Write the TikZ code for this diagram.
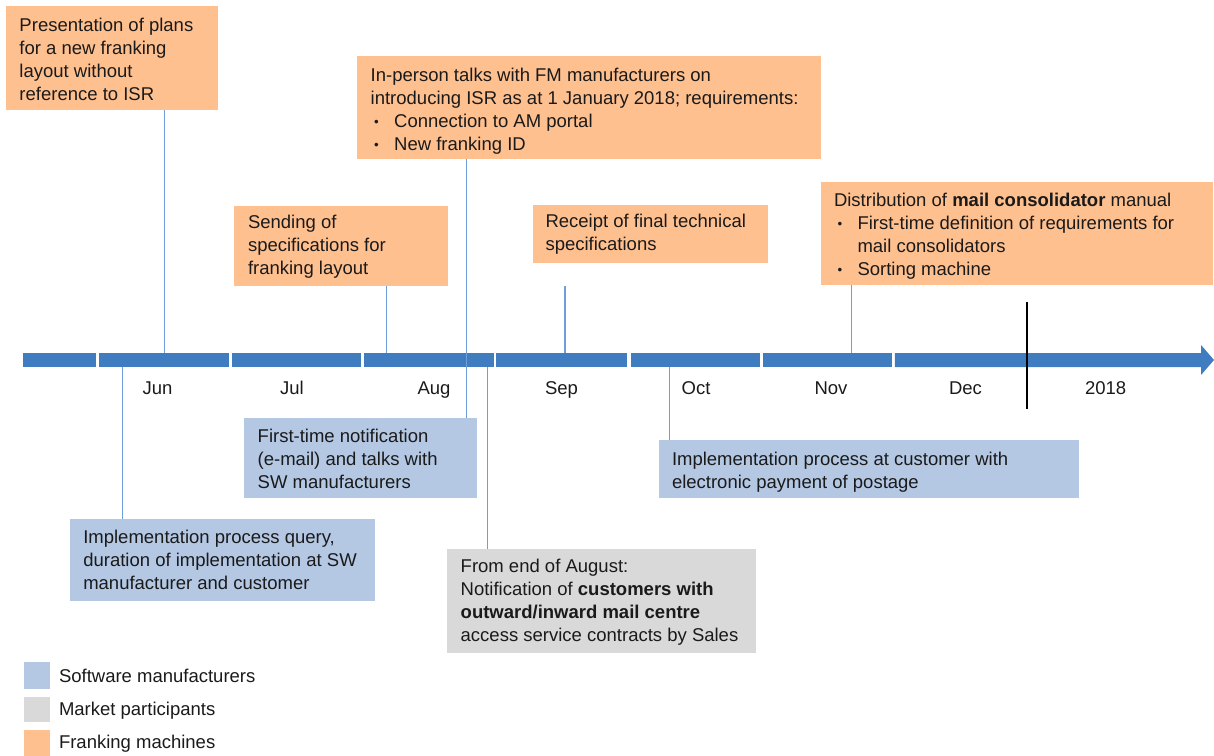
\documentclass[tikz,border=0pt]{standalone}
\usepackage{graphicx}
\usepackage{fontspec}
\setmainfont{Liberation Sans}
\definecolor{fmorange}{HTML}{FFC08F}
\definecolor{swblue}{HTML}{B4C8E4}
\definecolor{mpgray}{HTML}{D9D9D9}
\definecolor{barblue}{HTML}{3F7DC0}
\definecolor{connblue}{HTML}{6F9FD8}
\definecolor{ink}{HTML}{1A1A1A}
\newcommand{\boxfont}{\fontsize{18.5}{23.1}\selectfont}
\newcommand{\bul}{\makebox[23.5pt][l]{\hspace{3.5pt}\raisebox{1pt}{\scalebox{0.72}{•}}}}
\newcommand{\ind}{\hspace{23.5pt}}
\begin{document}
\begin{tikzpicture}[x=1pt,y=-1pt,
  boxbase/.style={rectangle,inner sep=0pt,outer sep=0pt,anchor=north west},
  fmbox/.style={boxbase,fill=fmorange},
  swbox/.style={boxbase,fill=swblue},
  mpbox/.style={boxbase,fill=mpgray},
  txt/.style={anchor=base west,inner sep=0pt,outer sep=0pt,font=\boxfont,text=ink},
  month/.style={anchor=base,inner sep=0pt,font=\boxfont,text=ink},
  conn/.style={draw=connblue,line width=1.3pt},
  legsq/.style={rectangle,inner sep=0pt,outer sep=0pt,anchor=north west,minimum width=26pt}]
\useasboundingbox (0,0) rectangle (1214,755);

% ---- timeline bar -------------------------------------------------------
\foreach \a/\b in {23/95.7, 98.7/228.5, 231.5/360.9, 364/493.7,
                   496.4/627.4, 630.5/759.7, 762.9/891.7}
  \fill[barblue] (\a,353) rectangle (\b,367);
\fill[barblue] (894.8,353) -- (1201,353) -- (1201,345) -- (1214,360)
  -- (1201,375) -- (1201,367) -- (894.8,367) -- cycle;
\draw[black,line width=2.2pt] (1026.8,302) -- (1026.8,409);

% month labels
\foreach \x/\m in {157.5/Jun, 292/Jul, 434/Aug, 561.5/Sep, 696/Oct,
                   831/Nov, 965.5/Dec, 1105.6/2018}
  \node[month] at (\x,394) {\m};

% anchor points of the connectors on the bar
\coordinate (t1) at (164.6,353);
\coordinate (t3) at (386.6,353);
\coordinate (t4) at (564.9,353);
\coordinate (t4s) at (564.9,286);
\coordinate (t5) at (851.8,353);
\coordinate (u7) at (122.8,367);
\coordinate (u8) at (487.2,367);
\coordinate (u9) at (669.7,367);

% ---- franking machine boxes ---------------------------------------------
\node[fmbox,minimum width=212pt,minimum height=104pt] (p1) at (6,6) {};
\node[txt] (p1t) at (19.5,31) {\begin{tabular}[t]{@{}l@{}}
Presentation of plans\\ for a new franking\\ layout without\\ reference to ISR
\end{tabular}};

\node[fmbox,minimum width=464pt,minimum height=103pt] (p2) at (357,56) {};
\node[txt] (p2t) at (370.7,81) {\begin{tabular}[t]{@{}l@{}}
In-person talks with FM manufacturers on\\
introducing ISR as at 1 January 2018; requirements:\\
\bul Connection to AM portal\\
\bul New franking ID
\end{tabular}};

\node[fmbox,minimum width=214pt,minimum height=80pt] (p3) at (234,205.5) {};
\node[txt] (p3t) at (248,228) {\begin{tabular}[t]{@{}l@{}}
Sending of\\ specifications for\\ franking layout
\end{tabular}};

\node[fmbox,minimum width=235.5pt,minimum height=58pt] (p4) at (532.5,205) {};
\node[txt] (p4t) at (545.5,227.5) {\begin{tabular}[t]{@{}l@{}}
Receipt of final technical\\ specifications
\end{tabular}};

\node[fmbox,minimum width=392pt,minimum height=103pt] (p5) at (821,182) {};
\node[txt] (p5t) at (834,206) {\begin{tabular}[t]{@{}l@{}}
Distribution of \textbf{mail consolidator} manual\\
\bul First-time definition of requirements for\\
\ind mail consolidators\\
\bul Sorting machine
\end{tabular}};

% ---- software manufacturer boxes ----------------------------------------
\node[swbox,minimum width=233pt,minimum height=80pt] (b6) at (244,418) {};
\node[txt] (b6t) at (257.7,442) {\begin{tabular}[t]{@{}l@{}}
First-time notification\\ (e-mail) and talks with\\ SW manufacturers
\end{tabular}};

\node[swbox,minimum width=305pt,minimum height=82pt] (b7) at (70,519) {};
\node[txt] (b7t) at (83.3,543) {\begin{tabular}[t]{@{}l@{}}
Implementation process query,\\ duration of implementation at SW\\ manufacturer and customer
\end{tabular}};

\node[swbox,minimum width=420pt,minimum height=58pt] (b9) at (659,440) {};
\node[txt] (b9t) at (672,465) {\begin{tabular}[t]{@{}l@{}}
Implementation process at customer with\\ electronic payment of postage
\end{tabular}};

% ---- market participant box ---------------------------------------------
\node[mpbox,minimum width=309pt,minimum height=104pt] (g8) at (447,549) {};
\node[txt] (g8t) at (460.7,572) {\begin{tabular}[t]{@{}l@{}}
From end of August:\\
Notification of \textbf{customers with}\\
\textbf{outward/inward mail centre}\\
access service contracts by Sales
\end{tabular}};

% ---- connectors ---------------------------------------------------------
\draw[conn] (p1.south -| t1) -- (t1);
\draw[conn] (p3.south -| t3) -- (t3);
\draw[conn] (t4s) -- (t4);
\draw[conn] (p5.south -| t5) -- (t5);
\draw[conn] (u7) -- (b7.north -| u7);
\draw[conn] (u8) -- (g8.north -| u8);
\draw[conn] (u9) -- (b9.north -| u9);
\draw[conn] (p2.south -| 466.5,0) -- (b6.north -| 466.5,0);

% ---- legend -------------------------------------------------------------
\node[legsq,fill=swblue,minimum height=27pt] (l1) at (24,662) {};
\node[legsq,fill=mpgray,minimum height=25pt] (l2) at (24,697) {};
\node[legsq,fill=fmorange,minimum height=26pt] (l3) at (24,730) {};
\node[txt] (l1t) at (59,682) {Software manufacturers};
\node[txt] (l2t) at (59,715) {Market participants};
\node[txt] (l3t) at (59,748) {Franking machines};
\end{tikzpicture}
\end{document}
